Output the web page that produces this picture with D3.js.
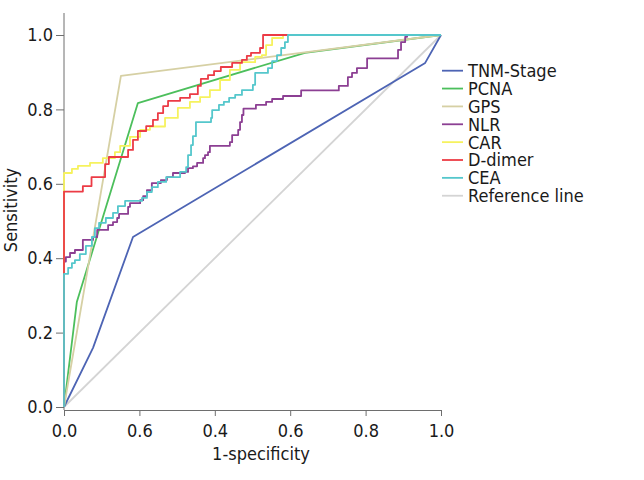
<!DOCTYPE html>
<html><head><meta charset="utf-8">
<script src="https://cdn.jsdelivr.net/npm/d3@7"></script>
<style>
body{margin:0;background:#fff;}
text{font-family:"DejaVu Sans Condensed","DejaVu Sans",sans-serif;}
</style></head>
<body><svg id="c" width="644" height="480"></svg>
<script>
const seriesNames = ["TNM-Stage","PCNA","GPS","NLR","CAR","D-dimer","CEA","Reference line"];
const seriesColors = ["#4d64b4","#4cbf5c","#d6d0a4","#8c3f93","#f6f25e","#ec3b45","#55c7cc","#d4d4d4"];
const xTickValues = [0,0.2,0.4,0.6,0.8,1.0];
const xTickLabels = ["0.0","0.6","0.4","0.6","0.8","1.0"];
const yTickValues = [0,0.2,0.4,0.6,0.8,1.0];
const yTickLabels = ["0.0","0.2","0.4","0.6","0.8","1.0"];

const tnmFpr = [0,0.077,0.183,0.958,1];
const tnmTpr = [0,0.159,0.457,0.925,1];
const pcnaFpr = [0,0.034,0.196,0.639,1];
const pcnaTpr = [0,0.282,0.817,0.952,1];
const gpsFpr = [0,0.151,1];
const gpsTpr = [0,0.890,1];
const nlrFpr = [0,0,0.005,0.016,0.029,0.050,0.077,0.088,0.117,0.130,0.141,0.146,0.170,0.175,0.202,0.210,0.220,0.233,0.257,0.273,0.289,0.321,0.329,0.342,0.353,0.369,0.374,0.382,0.387,0.440,0.446,0.462,0.467,0.472,0.476,0.509,0.536,0.552,0.581,0.629,0.729,0.753,0.764,0.777,0.804,0.886,0.894,0.905,0.910,1];
const nlrTpr = [0,0.391,0.403,0.414,0.422,0.449,0.457,0.476,0.489,0.497,0.508,0.519,0.538,0.548,0.556,0.567,0.583,0.602,0.610,0.618,0.629,0.632,0.642,0.647,0.656,0.669,0.677,0.685,0.702,0.712,0.731,0.745,0.766,0.785,0.802,0.812,0.820,0.828,0.836,0.851,0.863,0.887,0.898,0.911,0.937,0.960,0.981,0.995,1.0,1];
const carFpr = [0,0,0.021,0.037,0.069,0.103,0.135,0.149,0.175,0.202,0.228,0.268,0.302,0.334,0.361,0.387,0.414,0.440,0.467,0.507,0.525,0.536,0.552,0.581,1];
const carTpr = [0,0.629,0.640,0.648,0.656,0.669,0.685,0.702,0.726,0.745,0.754,0.777,0.804,0.820,0.833,0.852,0.879,0.906,0.927,0.941,0.946,0.973,0.992,1.0,1];
const ddFpr = [0,0,0.050,0.073,0.109,0.119,0.170,0.183,0.196,0.218,0.236,0.249,0.263,0.276,0.308,0.334,0.355,0.363,0.382,0.398,0.416,0.446,0.472,0.485,0.496,0.520,0.528,1];
const ddTpr = [0,0.579,0.594,0.618,0.653,0.672,0.691,0.718,0.742,0.755,0.772,0.790,0.809,0.823,0.831,0.841,0.863,0.882,0.892,0.903,0.914,0.925,0.933,0.944,0.952,0.965,1.0,1];
const ceaFpr = [0,0,0.011,0.021,0.029,0.042,0.058,0.074,0.082,0.093,0.111,0.130,0.143,0.162,0.207,0.220,0.233,0.249,0.271,0.308,0.324,0.329,0.337,0.342,0.350,0.390,0.393,0.411,0.424,0.438,0.454,0.472,0.501,0.507,0.541,0.552,0.565,0.576,0.586,0.594,1];
const ceaTpr = [0,0.358,0.374,0.387,0.395,0.411,0.433,0.457,0.481,0.495,0.508,0.522,0.540,0.554,0.562,0.578,0.591,0.605,0.618,0.632,0.645,0.677,0.704,0.728,0.766,0.777,0.798,0.812,0.820,0.831,0.839,0.852,0.866,0.898,0.911,0.930,0.946,0.965,0.981,1.0,1];
const refFpr = [0,1];
const refTpr = [0,1];

const seriesFpr = [tnmFpr,pcnaFpr,gpsFpr,nlrFpr,carFpr,ddFpr,ceaFpr,refFpr];
const seriesTpr = [tnmTpr,pcnaTpr,gpsTpr,nlrTpr,carTpr,ddTpr,ceaTpr,refTpr];
const stepped = [false,false,false,true,true,true,true,false];

const svg = d3.select("#c");
const x = d3.scaleLinear().domain([0,1]).range([64,441]);
const y = d3.scaleLinear().domain([0,1]).range([407,35]);
const axisColor = "#6e6e6e";
const fs = "18px";

// x axis
const xa = svg.append("g").attr("transform","translate(0,410)")
  .call(d3.axisBottom(x).tickValues(xTickValues).tickFormat((d,i)=>xTickLabels[i]).tickSizeOuter(0).tickSize(6).tickPadding(8));
xa.select(".domain").attr("stroke",axisColor);
xa.selectAll(".tick line").attr("stroke",axisColor);
xa.selectAll(".tick text").attr("font-size",fs).attr("fill","#1a1a1a").attr("font-family",null);

// y axis
const ya = svg.append("g").attr("transform","translate(64,0)")
  .call(d3.axisLeft(y).tickValues(yTickValues).tickFormat((d,i)=>yTickLabels[i]).tickSizeOuter(0).tickSize(8).tickPadding(3));
ya.select(".domain").remove();
ya.selectAll(".tick line").attr("stroke",axisColor);
ya.selectAll(".tick text").attr("font-size",fs).attr("fill","#1a1a1a").attr("font-family",null);
svg.append("line").attr("x1",64).attr("x2",64).attr("y1",13).attr("y2",410).attr("stroke",axisColor);

// axis titles
svg.append("text").attr("x",261).attr("y",460).attr("text-anchor","middle").attr("font-size",fs).attr("fill","#1a1a1a").text("1-specificity");
svg.append("text").attr("transform","translate(17,210) rotate(-90)").attr("text-anchor","middle").attr("font-size",fs).attr("fill","#1a1a1a").text("Sensitivity");

// curves (reference first, then legend order)
const order = [7,0,1,2,3,4,5,6];
order.forEach(i=>{
  const pts = seriesFpr[i].map((f,j)=>[f,seriesTpr[i][j]]);
  const line = d3.line().x(d=>x(d[0])).y(d=>y(d[1])).curve(stepped[i]?d3.curveStepAfter:d3.curveLinear);
  svg.append("path").attr("d",line(pts)).attr("fill","none").attr("stroke",seriesColors[i]).attr("stroke-width",1.8).attr("stroke-linejoin","round");
});

// legend
const lg = svg.append("g");
seriesNames.forEach((n,i)=>{
  const cy = 70.7 + i*17.86;
  lg.append("line").attr("x1",442).attr("x2",463).attr("y1",cy).attr("y2",cy).attr("stroke",seriesColors[i]).attr("stroke-width",1.8);
  lg.append("text").attr("x",468).attr("y",cy).attr("dy","0.36em").attr("font-size",fs).attr("fill","#1a1a1a").text(n);
});
</script></body></html>
